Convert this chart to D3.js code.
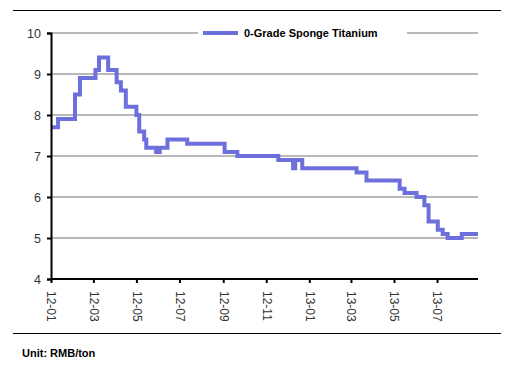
<!DOCTYPE html>
<html><head><meta charset="utf-8">
<script src="https://cdn.jsdelivr.net/npm/d3@7"></script>
<style>
html,body{margin:0;padding:0;background:#fff;}
svg{display:block;font-family:Arial,"Liberation Sans",sans-serif;}
</style></head>
<body><div id="chart"></div>
<script>
// Step changes: price holds from each date until the next one
const dates = ["2012-01-01","2012-01-11","2012-02-04","2012-02-11","2012-03-04","2012-03-09","2012-03-22","2012-04-03","2012-04-09","2012-04-16","2012-05-01","2012-05-05","2012-05-12","2012-05-15","2012-05-29","2012-06-03","2012-06-14","2012-07-12","2012-09-03","2012-09-21","2012-11-18","2012-12-09","2012-12-12","2012-12-22","2013-03-09","2013-03-23","2013-05-09","2013-05-16","2013-06-02","2013-06-13","2013-06-19","2013-07-02","2013-07-09","2013-07-16","2013-08-05","2013-08-28"];
const prices = [7.7,7.9,8.5,8.9,9.1,9.4,9.1,8.8,8.6,8.2,8.0,7.6,7.4,7.2,7.1,7.2,7.4,7.3,7.1,7.0,6.9,6.7,6.9,6.7,6.6,6.4,6.2,6.1,6.0,5.8,5.4,5.2,5.1,5.0,5.1,5.1];
const xTickDates = ["2012-01-01","2012-03-01","2012-05-01","2012-07-01","2012-09-01","2012-11-01","2013-01-01","2013-03-01","2013-05-01","2013-07-01"];
const yTicks = [4,5,6,7,8,9,10];
const seriesName = "0-Grade Sponge Titanium";
const unitLabel = "Unit: RMB/ton";

const W = 531, H = 383;
const parse = d3.timeParse("%Y-%m-%d");
const fmt = d3.timeFormat("%y-%m");
const data = dates.map((d,i)=>({date:parse(d), v:prices[i]}));

const svg = d3.select("#chart").append("svg").attr("width",W).attr("height",H);

const x = d3.scaleTime().domain([parse("2012-01-01"), parse("2013-08-28")]).range([51,478]);
const y = d3.scaleLinear().domain([4,10]).range([279,33]);

// frame rules
svg.append("line").attr("x1",13).attr("x2",501).attr("y1",10.5).attr("y2",10.5).attr("stroke","#000").attr("stroke-width",1.2);
svg.append("line").attr("x1",13).attr("x2",501).attr("y1",333.5).attr("y2",333.5).attr("stroke","#000").attr("stroke-width",1.2);

// gridlines
svg.append("g").selectAll("line").data(yTicks.filter(t=>t>4)).join("line")
  .attr("x1",51).attr("x2",478).attr("y1",d=>y(d)).attr("y2",d=>y(d))
  .attr("stroke","#b8b8b8").attr("stroke-width",2);

// line
const line = d3.line().x(d=>x(d.date)).y(d=>y(d.v)).curve(d3.curveStepAfter);
svg.append("path").datum(data).attr("d",line).attr("fill","none")
  .attr("stroke","#6d70dc").attr("stroke-width",4).attr("stroke-linejoin","miter").attr("stroke-linecap","butt");

// axes
const yAxis = d3.axisLeft(y).tickValues(yTicks).tickSize(4).tickPadding(6).tickFormat(d3.format("d"));
const gy = svg.append("g").attr("transform","translate(51,0)").call(yAxis);
gy.select(".domain").attr("stroke","#000").attr("stroke-width",2);
gy.selectAll(".tick line").attr("stroke","#000").attr("stroke-width",2);
gy.selectAll(".tick text").attr("font-size",12.5).attr("fill","#333").attr("font-family","Arial, 'Liberation Sans', sans-serif");

const xAxis = d3.axisBottom(x).tickValues(xTickDates.map(parse)).tickSize(4).tickFormat(fmt);
const gx = svg.append("g").attr("transform","translate(0,279)").call(xAxis);
gx.select(".domain").attr("stroke","#000").attr("stroke-width",2).attr("d","M51,0H478");
gx.selectAll(".tick line").attr("stroke","#000").attr("stroke-width",2);
gx.selectAll(".tick text").attr("font-size",12).attr("fill","#333").attr("font-family","Arial, 'Liberation Sans', sans-serif")
  .attr("transform","rotate(90)").attr("text-anchor","start").attr("dy","0.35em").attr("x",12).attr("y",0);

// legend
const lg = svg.append("g");
lg.append("rect").attr("x",198).attr("y",22).attr("width",209).attr("height",22).attr("fill","#fff");
lg.append("line").attr("x1",203).attr("x2",238).attr("y1",33).attr("y2",33).attr("stroke","#6d70dc").attr("stroke-width",4);
lg.append("text").attr("x",244).attr("y",37).attr("font-size",11).attr("font-weight","bold").attr("fill","#000").text(seriesName);

// unit
svg.append("text").attr("x",22).attr("y",357).attr("font-size",11).attr("font-weight","bold").attr("fill","#000").text(unitLabel);
</script></body></html>
